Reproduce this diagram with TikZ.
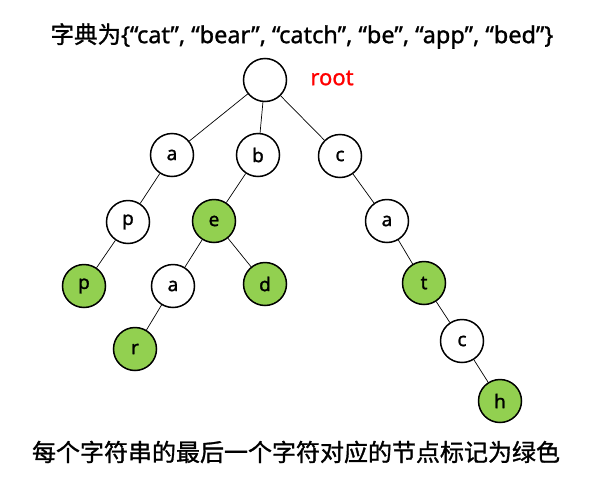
\documentclass[tikz,border=0pt]{standalone}
\usepackage{fontspec}
\setmainfont{Noto Sans}
\newfontfamily\cjk{Noto Sans CJK SC}[FakeBold=1.2]
\newfontfamily\heavy{Noto Sans}[FakeBold=1.2]
\usepackage{tikz}
\usetikzlibrary{positioning}
\definecolor{leafgreen}{RGB}{146,208,80}

\begin{document}
\begin{tikzpicture}[x=1pt,y=-1pt,% pixel coordinates, y grows downward
					every node/.style={
						align=center,		% one text per node
						inner sep=0pt
						},
					letter/.style={circle,draw=black,line width=1.5pt,fill=white,minimum size=43pt,font=\heavy\fontsize{19}{20}\selectfont},
					endletter/.style={letter,fill=leafgreen},
					every edge/.style={draw,line width=0.7pt}
					]
\useasboundingbox (0,0) rectangle (602,490);
% title and note
\node(T)at(302,36){\heavy\fontsize{23.5}{26}\selectfont{\cjk 字典为}\{“cat”, “bear”, “catch”, “be”, “app”, “bed”\}};
\node(N)at(296,452){\cjk\fontsize{24}{26}\selectfont 每个字符串的最后一个字符对应的节点标记为绿色};
% trie
\node[letter](R)at(265,80){};
\node[text=red,font=\heavy\fontsize{22}{24}\selectfont](RL)at(332,78){root};
\node[letter](A)at(172,155){a};
\node[letter](B)at(258,155){b};
\node[letter](C)at(340,156){c};
\node[letter](AP)at(128,222){p};
\node[endletter](APP)at(84,286){p};
\node[endletter](BE)at(214,221){e};
\node[letter](BEA)at(173,286){a};
\node[endletter](BEAR)at(135,349){r};
\node[endletter](BED)at(265,284){d};
\node[letter](CA)at(387,221){a};
\node[endletter](CAT)at(424,283){t};
\node[letter](CATC)at(462,341){c};
\node[endletter](CATCH)at(500,401){h};
\path
(R)edge []	node [] {} (A)
(R)edge []	node [] {} (B)
(R)edge []	node [] {} (C)
(A)edge []	node [] {} (AP)
(AP)edge []	node [] {} (APP)
(B)edge []	node [] {} (BE)
(BE)edge []	node [] {} (BEA)
(BE)edge []	node [] {} (BED)
(BEA)edge []	node [] {} (BEAR)
(C)edge []	node [] {} (CA)
(CA)edge []	node [] {} (CAT)
(CAT)edge []	node [] {} (CATC)
(CATC)edge []	node [] {} (CATCH)
;
\end{tikzpicture}
\end{document}
